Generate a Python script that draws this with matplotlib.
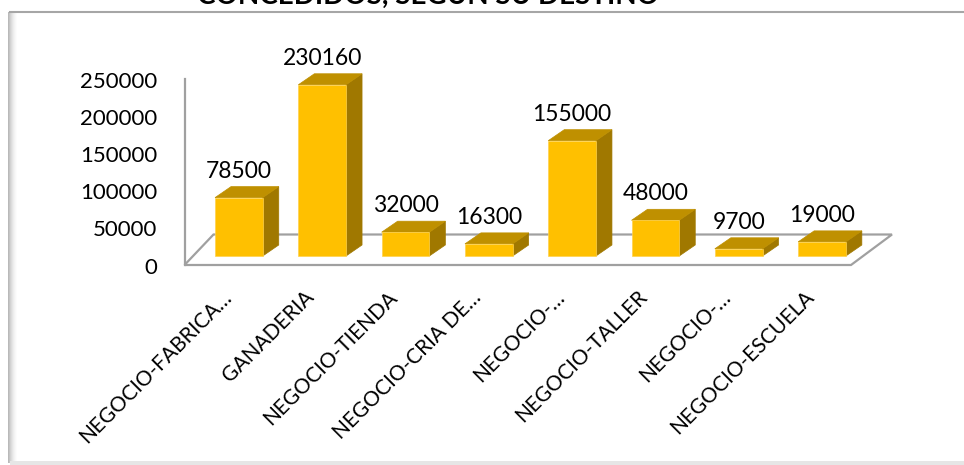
#!/usr/bin/env python3
# -*- coding: utf-8 -*-
# %% imports
import matplotlib
matplotlib.use('Agg')
import matplotlib.pyplot as plt
from matplotlib.patches import Polygon, Rectangle
from matplotlib.lines import Line2D

plt.rcParams['font.family'] = ['Lato', 'DejaVu Sans']

# %% data
categorias = ['NEGOCIO-FABRICA…', 'GANADERIA', 'NEGOCIO-TIENDA', 'NEGOCIO-CRIA DE…',
              'NEGOCIO-…', 'NEGOCIO-TALLER', 'NEGOCIO-…', 'NEGOCIO-ESCUELA']
montos = [78500, 230160, 32000, 16300, 155000, 48000, 9700, 19000]
ticks_y = [0, 50000, 100000, 150000, 200000, 250000]
titulo = 'CONCEDIDOS, SEGÚN SU DESTINO'

# colours of the 3d faces
c_front = '#FFC000'
c_top = '#BF9000'
c_side = '#A07800'
c_floor = '#A0A0A0'

# %% layout (pixels of the 964x465 picture)
W, H = 964, 465
ax_l, ax_r, ax_t, ax_b = 184.5, 851, 79, 265
px_cat = 83.3           # distance between categories
c0 = 238.9              # centre of the first bar
ymax = 250000

fig = plt.figure(figsize=(W / 100, H / 100), dpi=100)
ax = fig.add_axes([ax_l / W, (H - ax_b) / H, (ax_r - ax_l) / W, (ax_b - ax_t) / H])
x0 = -(c0 - ax_l) / px_cat
x1 = x0 + (ax_r - ax_l) / px_cat
ax.set_xlim(x0, x1)
ax.set_ylim(0, ymax)
ax.axis('off')

def dx(px):
    return px / px_cat

def dy(px):
    return px * ymax / (ax_b - ax_t)

# %% floor and value axis
fb_up = dy(30.5)
floor = Polygon([(x0, 0), (x1, 0), (x1 + dx(41), fb_up), (x0 + dx(29), fb_up)],
                closed=True, facecolor='white', edgecolor=c_floor, lw=1.6, clip_on=False)
ax.add_patch(floor)
ax.plot([x0, x0], [0, ymax], color=c_floor, lw=1.6, clip_on=False)

for t in ticks_y:
    ax.text(x0 - dx(27.5), t - dy(2.5), str(t), ha='right', va='center', fontsize=16,
            color='black', clip_on=False)

# %% bars
bw = dx(47.7)
base = dy(9)
ddx, ddy = dx(16), dy(11)
for i, (cat, v) in enumerate(zip(categorias, montos)):
    l, r = i - bw / 2, i + bw / 2
    b, t = base, base + v
    ax.add_patch(Polygon([(r, b), (r + ddx, b + ddy), (r + ddx, t + ddy), (r, t)],
                         closed=True, facecolor=c_side, edgecolor=c_side, lw=0.5, clip_on=False))
    ax.add_patch(Polygon([(l, t), (r, t), (r + ddx, t + ddy), (l + ddx, t + ddy)],
                         closed=True, facecolor=c_top, edgecolor=c_top, lw=0.5, clip_on=False))
    ax.add_patch(Rectangle((l, b), bw, v, facecolor=c_front, edgecolor='#FFD24D', lw=0.5,
                           clip_on=False))
    ax.text(i, t + ddy + dy(9), str(v), ha='center', va='baseline', fontsize=16.5, clip_on=False)
    ax.text(i - dx(18), -dy(22), cat, rotation=45, rotation_mode='anchor', ha='right', va='top',
            fontsize=15, clip_on=False)

# %% chart frame and cut title
fig.add_artist(Line2D([10 / W, 1], [1 - 12 / H, 1 - 12 / H], color='#A6A6A6', lw=1.5))
for k, a in enumerate([0.55, 0.45, 0.35, 0.27, 0.2, 0.14, 0.09, 0.05, 0.02]):
    fig.add_artist(Rectangle(((8 + k) / W, 2 / H), 1 / W, 1 - 14 / H, facecolor='#808080',
                             alpha=a, lw=0))
fig.add_artist(Rectangle((10 / W, 0), 1, 4 / H, facecolor='#E6E6E6', lw=0))
fig.text(428 / W, 1 - 4 / H, titulo, ha='center', va='baseline', fontsize=20,
         fontweight='bold')

# %% saving
fig.savefig('out.png', dpi=100)
